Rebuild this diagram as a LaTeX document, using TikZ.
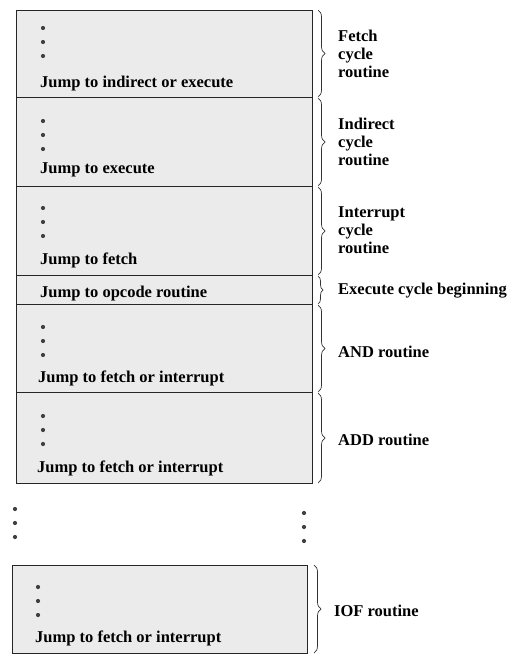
\documentclass[tikz,border=0pt]{standalone}
\usepackage{fontspec}
\setmainfont{Liberation Serif}
\usetikzlibrary{decorations.pathreplacing}
\begin{document}
\begin{tikzpicture}[x=1pt,y=-1pt,
  section/.style={draw=black!85, line width=0.8pt, fill=black!8, inner sep=0pt},
  jumptext/.style={anchor=base west, inner sep=0pt, font=\bfseries\fontsize{16.5}{18}\selectfont},
  label/.style={anchor=west, inner sep=0pt, align=left, font=\bfseries\fontsize{16.5}{18}\selectfont},
  bdot/.style={fill=black!75, draw=none, circle, minimum size=4.2pt, inner sep=0pt},
  curly/.style={decorate, decoration={brace, amplitude=7pt}, line width=0.7pt, black!80}]
\useasboundingbox (0,0) rectangle (507,655);

% memory sections, top to bottom
\path[section] (16,10)  rectangle (312,97);
\path[section] (16,97)  rectangle (312,186);
\path[section] (16,186) rectangle (312,275);
\path[section] (16,275) rectangle (312,304);
\path[section] (16,304) rectangle (312,392);
\path[section] (16,392) rectangle (312,483);
\path[section] (12,565) rectangle (307,653);

% vertical ellipses inside the sections
\foreach \y in {28,121,208,327,416} {
  \foreach \k in {0,1,2} \node[bdot] at (43,\y+14*\k) {};
}
\foreach \k in {0,1,2} \node[bdot] at (38,587+14*\k) {};

% ellipses between the ADD section and the IOF section
\foreach \k in {0,1,2} \node[bdot] at (15,509+14*\k) {};
\foreach \k in {0,1,2} \node[bdot] at (304,513+14*\k) {};

% last instruction of each routine
\node[jumptext] (jf) at (40,88)  {Jump to indirect or execute};
\node[jumptext] (ji) at (40,173) {Jump to execute};
\node[jumptext] (jn) at (40,264) {Jump to fetch};
\node[jumptext] (je) at (40,297) {Jump to opcode routine};
\node[jumptext] (ja) at (38,382) {Jump to fetch or interrupt};
\node[jumptext] (jd) at (37,472) {Jump to fetch or interrupt};
\node[jumptext] (jo) at (35,642) {Jump to fetch or interrupt};

% braces with their routine names
\coordinate (b1t) at (318,10);  \coordinate (b1b) at (318,97);
\coordinate (b2t) at (318,98);  \coordinate (b2b) at (318,186);
\coordinate (b3t) at (318,187); \coordinate (b3b) at (318,275);
\coordinate (b4t) at (318,276); \coordinate (b4b) at (318,304);
\coordinate (b5t) at (318,305); \coordinate (b5b) at (318,392);
\coordinate (b6t) at (318,393); \coordinate (b6b) at (318,483);
\coordinate (b7t) at (314,565); \coordinate (b7b) at (314,653);

\draw[curly] (b1t) -- (b1b);
\draw[curly] (b2t) -- (b2b);
\draw[curly] (b3t) -- (b3b);
\draw[curly, decoration={amplitude=5pt}] (b4t) -- (b4b);
\draw[curly] (b5t) -- (b5b);
\draw[curly] (b6t) -- (b6b);
\draw[curly] (b7t) -- (b7b);

\node[label] (lf) at (338,54)  {Fetch\\cycle\\routine};
\node[label] (li) at (338,142) {Indirect\\cycle\\routine};
\node[label] (ln) at (338,230) {Interrupt\\cycle\\routine};
\node[label] (le) at (338,291) {Execute cycle beginning};
\node[label] (la) at (338,352) {AND routine};
\node[label] (ld) at (338,440) {ADD routine};
\node[label] (lo) at (334,611) {IOF routine};
\end{tikzpicture}
\end{document}
